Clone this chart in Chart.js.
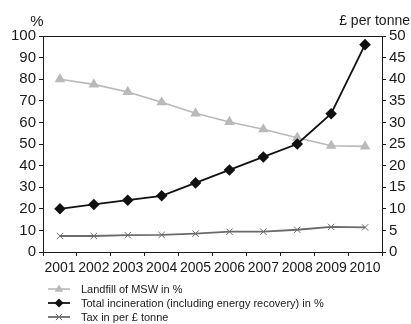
<!DOCTYPE html>
<html>
<head>
<meta charset="utf-8">
<script src="https://cdn.jsdelivr.net/npm/chart.js@4/dist/chart.umd.min.js"></script>
<style>
html,body{margin:0;padding:0;background:#fff;}
canvas{display:block;}
</style>
</head>
<body>
<canvas id="c" width="411" height="324"></canvas>
<script>
const years = ['2001','2002','2003','2004','2005','2006','2007','2008','2009','2010'];
const landfillPct = [80, 77.6, 74.1, 69.3, 64.2, 60.2, 56.8, 52.9, 49.2, 48.9];
const incinerationPct = [20, 22, 24, 26, 32, 38, 44, 50, 64, 96];
const taxPerTonne = [3.7, 3.7, 3.9, 3.95, 4.25, 4.7, 4.7, 5.15, 5.8, 5.7];
const seriesLabels = ['Landfill of MSW in %', 'Total incineration (including energy recovery) in %', 'Tax in per £ tonne'];
const leftTitle = '%';
const rightTitle = '£ per tonne';

const FONT = "'Liberation Sans Narrow', 'Arial Narrow', 'Liberation Sans', Arial, sans-serif";
const INK = '#1a1a1a';

function drawMarker(ctx, style, x, y, r, color) {
  ctx.save();
  ctx.fillStyle = color; ctx.strokeStyle = color; ctx.lineWidth = 1;
  ctx.beginPath();
  if (style === 'triangle') {
    ctx.moveTo(x, y - r);
    ctx.lineTo(x + r * 0.95, y + r * 0.6);
    ctx.lineTo(x - r * 0.95, y + r * 0.6);
    ctx.closePath(); ctx.fill();
  } else if (style === 'rectRot') {
    ctx.moveTo(x, y - r); ctx.lineTo(x + r, y); ctx.lineTo(x, y + r); ctx.lineTo(x - r, y);
    ctx.closePath(); ctx.fill();
  } else {
    const d = r * 0.7;
    ctx.moveTo(x - d, y - d); ctx.lineTo(x + d, y + d);
    ctx.moveTo(x + d, y - d); ctx.lineTo(x - d, y + d);
    ctx.stroke();
  }
  ctx.restore();
}

const decorPlugin = {
  id: 'decor',
  afterDraw(chart) {
    const ctx = chart.ctx;
    const a = chart.chartArea;
    ctx.save();
    ctx.strokeStyle = INK; ctx.lineWidth = 1;
    ctx.beginPath(); ctx.moveTo(a.left, a.top + 0.5); ctx.lineTo(a.right, a.top + 0.5); ctx.stroke();
    ctx.fillStyle = INK;
    ctx.textBaseline = 'middle';
    ctx.font = "15px " + FONT;
    ctx.textAlign = 'center';
    ctx.fillText(leftTitle, 37, 22);
    ctx.font = "14px " + FONT;
    ctx.textAlign = 'right';
    ctx.fillText(rightTitle, 410, 21);
    ctx.font = "11px " + FONT;
    ctx.textAlign = 'left';
    const rows = [289, 303, 317];
    chart.data.datasets.forEach((ds, i) => {
      const y = rows[i];
      ctx.strokeStyle = ds.borderColor; ctx.lineWidth = ds.borderWidth;
      ctx.beginPath(); ctx.moveTo(48, y); ctx.lineTo(70, y); ctx.stroke();
      drawMarker(ctx, ds.pointStyle, 59, y, ds.pointRadius, ds.pointBorderColor || ds.borderColor);
      ctx.fillStyle = INK;
      ctx.fillText(ds.label, 81, y + 0.5);
    });
    ctx.restore();
  }
};

const triangleColor = '#b9b9b9';
new Chart(document.getElementById('c'), {
  type: 'line',
  data: {
    labels: years,
    datasets: [
      { label: seriesLabels[0], data: landfillPct, yAxisID: 'y', borderColor: triangleColor, backgroundColor: triangleColor,
        pointBackgroundColor: triangleColor, pointBorderColor: triangleColor, borderWidth: 1.6,
        pointStyle: 'triangle', pointRadius: 4.5, order: 1 },
      { label: seriesLabels[1], data: incinerationPct, yAxisID: 'y', borderColor: '#111', backgroundColor: '#111',
        pointBackgroundColor: '#111', pointBorderColor: '#111', borderWidth: 1.8,
        pointStyle: 'rectRot', pointRadius: 4.5, order: 0 },
      { label: seriesLabels[2], data: taxPerTonne, yAxisID: 'y1', borderColor: '#6a6a6a', backgroundColor: '#6a6a6a',
        pointBackgroundColor: '#6a6a6a', pointBorderColor: '#6a6a6a', borderWidth: 1.8,
        pointStyle: 'crossRot', pointRadius: 4.5, pointBorderWidth: 1, order: 2 }
    ]
  },
  options: {
    responsive: false,
    animation: false,
    events: [],
    layout: { padding: { top: 36, left: 0, right: 0, bottom: 0 } },
    plugins: { legend: { display: false }, tooltip: { enabled: false }, title: { display: false } },
    scales: {
      x: {
        offset: true,
        grid: { offset: true, drawOnChartArea: false, tickLength: 4, color: INK, tickColor: INK },
        border: { color: INK, width: 1 },
        ticks: { color: INK, font: { family: FONT, size: 14 }, padding: 4, maxRotation: 0, autoSkip: false },
        afterFit(s) { s.height = 72; }
      },
      y: {
        position: 'left', min: 0, max: 100,
        grid: { drawOnChartArea: false, tickLength: 4, color: INK, tickColor: INK },
        border: { color: INK, width: 1 },
        ticks: { stepSize: 10, color: INK, font: { family: FONT, size: 15 }, padding: 3 },
        afterFit(s) { s.width = 43; }
      },
      y1: {
        position: 'right', min: 0, max: 50,
        grid: { drawOnChartArea: false, tickLength: 4, color: INK, tickColor: INK },
        border: { color: INK, width: 1 },
        ticks: { stepSize: 5, color: INK, font: { family: FONT, size: 15 }, padding: 3 },
        afterFit(s) { s.width = 29; }
      }
    }
  },
  plugins: [decorPlugin]
});
</script>
</body>
</html>
